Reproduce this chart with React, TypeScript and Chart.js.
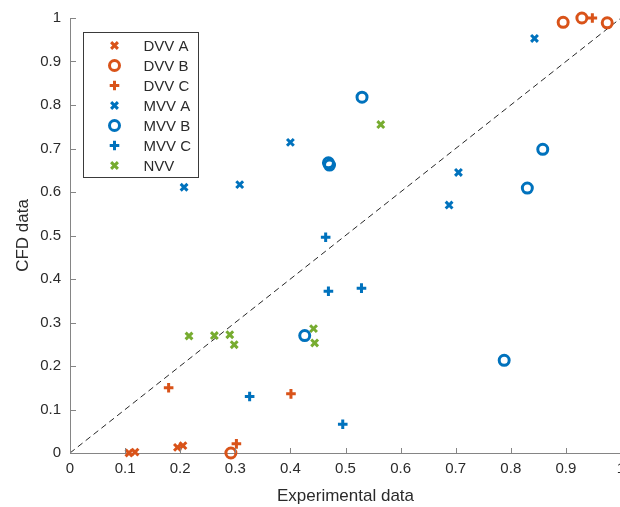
import React, { useEffect, useRef } from "react";
import { Chart, registerables } from "chart.js";

Chart.register(...registerables);

// ---- data ----
const seriesNames = ["DVV A", "DVV B", "DVV C", "MVV A", "MVV B", "MVV C", "NVV"];

const dvvAX = [0.107, 0.118, 0.195, 0.205];
const dvvAY = [0.0, 0.002, 0.013, 0.017];

const dvvBX = [0.292, 0.895, 0.929, 0.975];
const dvvBY = [0.0, 0.99, 1.0, 0.989];

const dvvCX = [0.179, 0.302, 0.401, 0.948];
const dvvCY = [0.15, 0.021, 0.136, 1.0];

const mvvAX = [0.207, 0.308, 0.4, 0.688, 0.705, 0.843];
const mvvAY = [0.611, 0.617, 0.714, 0.57, 0.645, 0.953];

const mvvBX = [0.469, 0.471, 0.426, 0.53, 0.788, 0.83, 0.858];
const mvvBY = [0.667, 0.662, 0.27, 0.818, 0.213, 0.609, 0.698];

const mvvCX = [0.464, 0.469, 0.529, 0.326, 0.495];
const mvvCY = [0.496, 0.372, 0.379, 0.13, 0.066];

const nvvX = [0.216, 0.262, 0.29, 0.298, 0.442, 0.444, 0.564];
const nvvY = [0.269, 0.27, 0.272, 0.249, 0.286, 0.253, 0.755];

const diagX = [0, 1];
const diagY = [0, 1];

const xTicks = [0, 0.1, 0.2, 0.3, 0.4, 0.5, 0.6, 0.7, 0.8, 0.9, 1];
const yTicks = [0, 0.1, 0.2, 0.3, 0.4, 0.5, 0.6, 0.7, 0.8, 0.9, 1];

const ORANGE = "#D95319";
const BLUE = "#0072BD";
const GREEN = "#77AC30";
const FONT = "'Liberation Sans', Arial, Helvetica, sans-serif";
const TEXT = "#2b2b2b";
const AXIS = "#858585";
const MARKER_W = 3;

const zip = (xs: number[], ys: number[]) => xs.map((x, i) => ({ x, y: ys[i] }));

type Marker = "crossRot" | "circle" | "cross";

const seriesDefs: { name: string; xs: number[]; ys: number[]; color: string; marker: Marker }[] = [
  { name: seriesNames[0], xs: dvvAX, ys: dvvAY, color: ORANGE, marker: "crossRot" },
  { name: seriesNames[1], xs: dvvBX, ys: dvvBY, color: ORANGE, marker: "circle" },
  { name: seriesNames[2], xs: dvvCX, ys: dvvCY, color: ORANGE, marker: "cross" },
  { name: seriesNames[3], xs: mvvAX, ys: mvvAY, color: BLUE, marker: "crossRot" },
  { name: seriesNames[4], xs: mvvBX, ys: mvvBY, color: BLUE, marker: "circle" },
  { name: seriesNames[5], xs: mvvCX, ys: mvvCY, color: BLUE, marker: "cross" },
  { name: seriesNames[6], xs: nvvX, ys: nvvY, color: GREEN, marker: "crossRot" },
];

const markerRadius = (m: Marker) => (m === "circle" ? 5.0 : m === "cross" ? 4.8 : 4.8);

function drawMarker(ctx: CanvasRenderingContext2D, m: Marker, x: number, y: number, color: string) {
  const r = markerRadius(m);
  ctx.save();
  ctx.strokeStyle = color;
  ctx.lineWidth = MARKER_W;
  ctx.beginPath();
  if (m === "circle") {
    ctx.arc(x, y, r, 0, Math.PI * 2);
  } else if (m === "cross") {
    ctx.moveTo(x - r, y);
    ctx.lineTo(x + r, y);
    ctx.moveTo(x, y - r);
    ctx.lineTo(x, y + r);
  } else {
    const d = r * Math.SQRT1_2;
    ctx.moveTo(x - d, y - d);
    ctx.lineTo(x + d, y + d);
    ctx.moveTo(x - d, y + d);
    ctx.lineTo(x + d, y - d);
  }
  ctx.stroke();
  ctx.restore();
}

const innerTicksPlugin = {
  id: "innerTicks",
  afterDatasetsDraw(chart: any) {
    const { ctx, chartArea, scales } = chart;
    ctx.save();
    ctx.strokeStyle = AXIS;
    ctx.lineWidth = 1;
    ctx.beginPath();
    xTicks.forEach((v) => {
      const px = Math.round(scales.x.getPixelForValue(v)) + 0.5;
      ctx.moveTo(px, chartArea.bottom);
      ctx.lineTo(px, chartArea.bottom - 5);
    });
    yTicks.forEach((v) => {
      const py = Math.round(scales.y.getPixelForValue(v)) + 0.5;
      ctx.moveTo(chartArea.left, py);
      ctx.lineTo(chartArea.left + 6, py);
    });
    ctx.stroke();
    ctx.restore();
  },
};

const legendPlugin = {
  id: "boxLegend",
  afterDraw(chart: any) {
    const { ctx, chartArea } = chart;
    const left = chartArea.left + 13.5;
    const top = chartArea.top + 14.5;
    const w = 115;
    const h = 145;
    ctx.save();
    ctx.fillStyle = "#ffffff";
    ctx.fillRect(left, top, w, h);
    ctx.strokeStyle = "#3a3a3a";
    ctx.lineWidth = 1;
    ctx.strokeRect(left, top, w, h);
    ctx.font = `15px ${FONT}`;
    ctx.fillStyle = TEXT;
    ctx.textBaseline = "middle";
    ctx.textAlign = "left";
    seriesDefs.forEach((s, i) => {
      const cy = top + 13 + i * 20;
      drawMarker(ctx, s.marker, left + 31, cy, s.color);
      ctx.fillText(s.name, left + 60, cy + 1);
    });
    ctx.restore();
  },
};

const fmt = (v: number) => String(Number(Number(v).toFixed(1)));

export default function App() {
  const ref = useRef<HTMLCanvasElement | null>(null);

  useEffect(() => {
    document.body.style.margin = "0";
    const canvas = ref.current;
    if (!canvas) return;

    const datasets: any[] = seriesDefs.map((s) => ({
      type: "scatter",
      label: s.name,
      data: zip(s.xs, s.ys),
      pointStyle: s.marker,
      pointRadius: markerRadius(s.marker),
      pointHoverRadius: markerRadius(s.marker),
      pointBorderWidth: MARKER_W,
      borderColor: s.color,
      backgroundColor: "rgba(0,0,0,0)",
      showLine: false,
      clip: false,
      order: 0,
    }));

    datasets.push({
      type: "line",
      label: "y = x",
      data: zip(diagX, diagY),
      borderColor: "#262626",
      borderWidth: 1,
      borderDash: [6, 4],
      pointRadius: 0,
      fill: false,
      order: 10,
    });

    const chart = new Chart(canvas, {
      type: "scatter",
      data: { datasets },
      options: {
        animation: false,
        responsive: false,
        devicePixelRatio: 1,
        layout: { padding: { top: 17, right: 19, left: 0, bottom: 0 } },
        plugins: {
          legend: { display: false },
          tooltip: { enabled: false },
        },
        scales: {
          x: {
            type: "linear",
            min: 0,
            max: 1,
            afterFit: (s: any) => {
              s.height = 54;
            },
            afterBuildTicks: (s: any) => {
              s.ticks = xTicks.map((v) => ({ value: v }));
            },
            ticks: {
              color: TEXT,
              font: { family: FONT, size: 15 },
              padding: 7,
              maxRotation: 0,
              autoSkip: false,
              callback: (v: any) => fmt(v),
            },
            grid: { drawOnChartArea: false, drawTicks: false, color: AXIS },
            border: { display: true, color: AXIS, width: 1 },
            title: {
              display: true,
              text: "Experimental data",
              color: TEXT,
              font: { family: FONT, size: 17 },
              padding: { top: 0, bottom: 0 },
            },
          },
          y: {
            type: "linear",
            min: 0,
            max: 1,
            afterFit: (s: any) => {
              s.width = 70;
            },
            afterBuildTicks: (s: any) => {
              s.ticks = yTicks.map((v) => ({ value: v }));
            },
            ticks: {
              color: TEXT,
              font: { family: FONT, size: 15 },
              padding: 9,
              autoSkip: false,
              callback: (v: any) => fmt(v),
            },
            grid: { drawOnChartArea: false, drawTicks: false, color: AXIS },
            border: { display: true, color: AXIS, width: 1 },
            title: {
              display: true,
              text: "CFD data",
              color: TEXT,
              font: { family: FONT, size: 17 },
              padding: { top: 13, bottom: 0 },
            },
          },
        },
      } as any,
      plugins: [innerTicksPlugin, legendPlugin],
    });

    return () => chart.destroy();
  }, []);

  return (
    <div style={{ width: 620, height: 507, overflow: "hidden", position: "relative", background: "#fff" }}>
      <canvas ref={ref} width={640} height={507} style={{ display: "block", width: 640, height: 507 }} />
    </div>
  );
}
